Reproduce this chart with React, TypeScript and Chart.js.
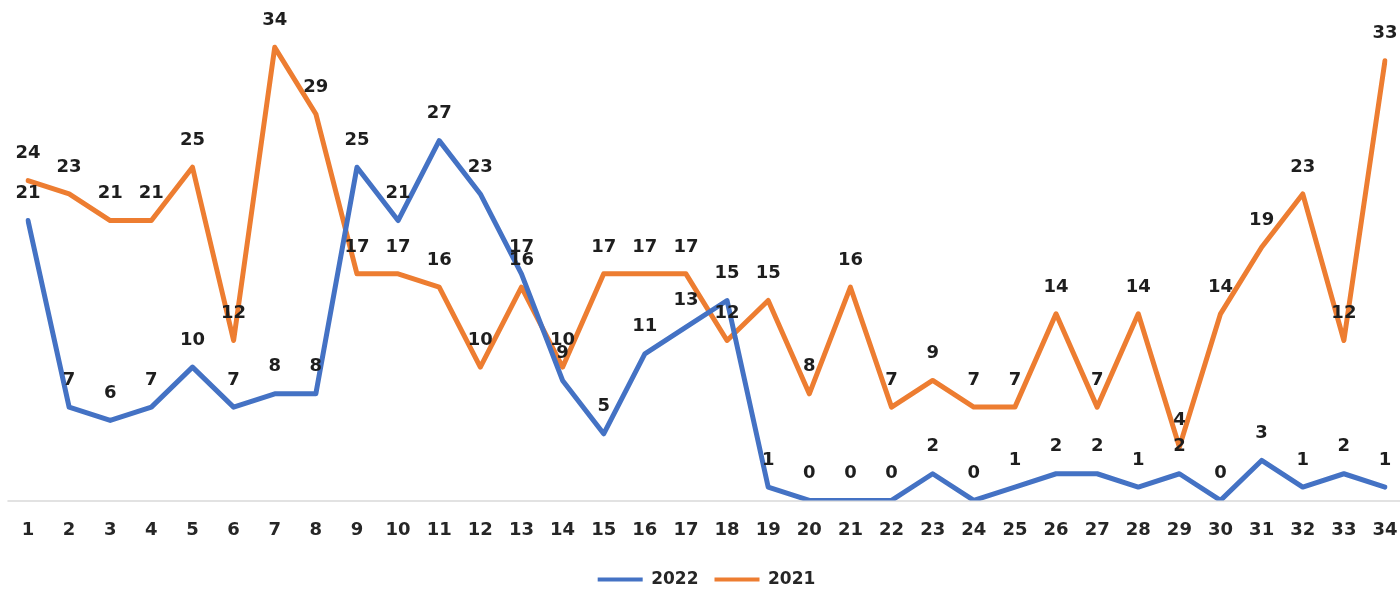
import React, { useEffect, useRef } from "react";
import { Chart, registerables } from "chart.js";

Chart.register(...registerables);

const categories = Array.from({ length: 34 }, (_, i) => String(i + 1));
const series2022 = [21, 7, 6, 7, 10, 7, 8, 8, 25, 21, 27, 23, 17, 9, 5, 11, 13, 15, 1, 0, 0, 0, 2, 0, 1, 2, 2, 1, 2, 0, 3, 1, 2, 1];
const series2021 = [24, 23, 21, 21, 25, 12, 34, 29, 17, 17, 16, 10, 16, 10, 17, 17, 17, 12, 15, 8, 16, 7, 9, 7, 7, 14, 7, 14, 4, 14, 19, 23, 12, 33];
const seriesNames = ["2022", "2021"];
const seriesColors = ["#4472C4", "#ED7D31"];

const FONT = "'DejaVu Sans', sans-serif";

const baselinePlugin = {
  id: "baseline",
  beforeDatasetsDraw(chart: any) {
    const { ctx, chartArea, scales } = chart;
    const x = scales.x;
    const step = x.getPixelForValue(1) - x.getPixelForValue(0);
    ctx.save();
    ctx.strokeStyle = "#d9d9d9";
    ctx.lineWidth = 1.5;
    ctx.beginPath();
    ctx.moveTo(chartArea.left - step / 2, chartArea.bottom + 0.5);
    ctx.lineTo(chartArea.right + step / 2, chartArea.bottom + 0.5);
    ctx.stroke();
    ctx.restore();
  },
};

const labelPlugin = {
  id: "pointLabels",
  afterDatasetsDraw(chart: any) {
    const { ctx } = chart;
    ctx.save();
    ctx.font = `bold 18px ${FONT}`;
    ctx.fillStyle = "#1e1e1e";
    ctx.textAlign = "center";
    ctx.textBaseline = "middle";
    chart.data.datasets.forEach((ds: any, di: number) => {
      const meta = chart.getDatasetMeta(di);
      meta.data.forEach((pt: any, i: number) => {
        ctx.fillText(String(ds.data[i]), pt.x, pt.y - 27);
      });
    });
    ctx.restore();
  },
};

export default function App() {
  const ref = useRef<HTMLCanvasElement | null>(null);
  useEffect(() => {
    document.body.style.margin = "0";
    const canvas = ref.current!;
    const chart = new Chart(canvas, {
      type: "line",
      data: {
        labels: categories,
        datasets: seriesNames.map((name, i) => ({
          label: name,
          data: i === 0 ? series2022 : series2021,
          borderColor: seriesColors[i],
          backgroundColor: seriesColors[i],
          borderWidth: 5,
          pointRadius: 0,
          tension: 0,
          borderJoinStyle: "round" as const,
          borderCapStyle: "round" as const,
        })),
      },
      options: {
        animation: false,
        responsive: false,
        devicePixelRatio: 1,
        layout: { padding: { left: 28, right: 15, top: 34, bottom: -6 } },
        scales: {
          x: {
            type: "category",
            offset: false,
            grid: {
              display: true,
              drawOnChartArea: false,
              drawTicks: true,
              tickLength: 6,
              color: "rgba(0,0,0,0)",
            },
            border: { display: false },
            ticks: {
              autoSkip: false,
              maxRotation: 0,
              padding: 0,
              color: "#262626",
              font: { family: FONT, weight: "bold", size: 18, lineHeight: 2.7 },
            },
          },
          y: {
            display: false,
            min: 0,
            max: 35,
          },
        },
        plugins: {
          legend: {
            position: "bottom",
            labels: {
              boxWidth: 45,
              boxHeight: 4,
              padding: 16,
              color: "#262626",
              font: { family: FONT, weight: "bold", size: 17 },
              generateLabels(chart: any) {
                return chart.data.datasets.map((ds: any, i: number) => ({
                  text: ds.label,
                  fillStyle: ds.borderColor,
                  strokeStyle: ds.borderColor,
                  lineWidth: 0,
                  hidden: false,
                  datasetIndex: i,
                  fontColor: "#262626",
                }));
              },
            },
          },
          tooltip: { enabled: false },
        },
      },
      plugins: [baselinePlugin, labelPlugin],
    });
    return () => chart.destroy();
  }, []);
  return (
    <div style={{ width: 1400, height: 592, background: "#fff" }}>
      <canvas ref={ref} width={1400} height={592} style={{ display: "block" }} />
    </div>
  );
}
